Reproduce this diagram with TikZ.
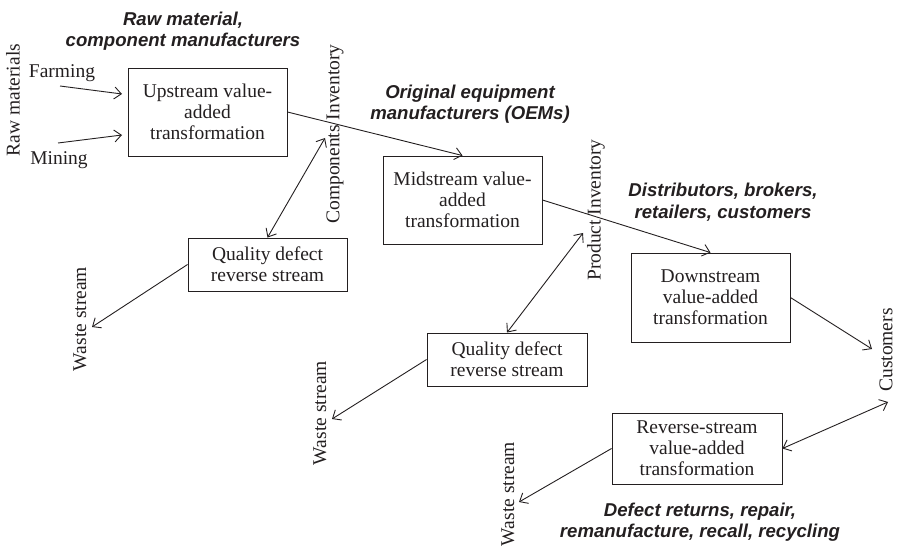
\documentclass[tikz,border=0pt]{standalone}
\usepackage{fontspec}
\setmainfont{Liberation Serif}
\newfontfamily\headfont{Liberation Sans}
\usetikzlibrary{arrows.meta}
\definecolor{ink}{RGB}{35,31,32}
\begin{document}
\begin{tikzpicture}[x=1pt,y=-1pt,
  every node/.style={text=ink},
  box/.style={draw=ink, line width=0.9pt, align=center, inner sep=0pt,
    font=\fontsize{19.5}{21}\selectfont},
  lbl/.style={inner sep=0pt, font=\fontsize{19.5}{21}\selectfont},
  vlbl/.style={lbl, rotate=90},
  head/.style={inner sep=0pt, align=center,
    font=\headfont\bfseries\itshape\fontsize{18.6}{21.5}\selectfont},
  flow/.style={draw=ink, line width=0.9pt, -{Straight Barb[length=7pt,width=12pt]}},
  both/.style={draw=ink, line width=0.9pt,
    {Straight Barb[length=7pt,width=12pt]}-{Straight Barb[length=7pt,width=12pt]}}]
\useasboundingbox (0,0) rectangle (897,548);

% stage boxes
\node[box, minimum width=159pt, minimum height=88pt] (up)   at (207.5,112)   {Upstream value-\\added\\transformation};
\node[box, minimum width=159pt, minimum height=88pt] (mid)  at (462.5,200)   {Midstream value-\\added\\transformation};
\node[box, minimum width=159pt, minimum height=89pt] (down) at (710.5,297.5) {Downstream\\value-added\\transformation};
\node[box, minimum width=159pt, minimum height=53pt] (qd1)  at (267.5,264.5) {Quality defect\\reverse stream};
\node[box, minimum width=160pt, minimum height=53pt] (qd2)  at (507,359.5)   {Quality defect\\reverse stream};
\node[box, minimum width=170pt, minimum height=71pt] (rev)  at (697,448.5)   {Reverse-stream\\value-added\\transformation};

% group headings
\node[head] (h1) at (183,31)  {Raw material,\\component manufacturers};
\node[head] (h2) at (470,104) {Original equipment\\manufacturers (OEMs)};
\node[head] (h3) at (723,202) {Distributors, brokers,\\retailers, customers};
\node[head] (h4) at (700,522) {Defect returns, repair,\\remanufacture, recall, recycling};

% side labels
\node[vlbl] (raw)    at (13,100)  {Raw materials};
\node[lbl]  (farm)   at (62,73)   {Farming};
\node[lbl]  (mine)   at (59,160)  {Mining};
\node[vlbl] (comp)   at (335,134) {Components Inventory};
\node[vlbl] (prod)   at (596,210) {Product Inventory};
\node[vlbl] (waste1) at (80,319)  {Waste stream};
\node[vlbl] (waste2) at (320,413) {Waste stream};
\node[vlbl] (waste3) at (508,494) {Waste stream};
\node[vlbl] (cust)   at (886,350) {Customers};

% free connector ends
\coordinate (farmtail) at (60,86);
\coordinate (farmtip)  at (122,94);
\coordinate (minetail) at (58,143);
\coordinate (minetip)  at (122,135);
\coordinate (compin)   at (325,138);
\coordinate (prodin)   at (583,233);
\coordinate (waste1in) at (92,327);
\coordinate (waste2in) at (332,419);
\coordinate (waste3in) at (519,502);
\coordinate (custin)   at (872,349);
\coordinate (custout)  at (888,402);

% forward flow
\draw[flow] (farmtail) -- (farmtip);
\draw[flow] (minetail) -- (minetip);
\draw[flow] (up.east) -- (mid.north);
\draw[flow] (mid.east) -- (down.north);
\draw[flow] (down.east) -- (custin);

% reverse and waste flows
\draw[both] (qd1.north) -- (compin);
\draw[flow] (qd1.west) -- (waste1in);
\draw[both] (qd2.north) -- (prodin);
\draw[flow] (qd2.west) -- (waste2in);
\draw[flow] (rev.west) -- (waste3in);
\draw[both] (rev.east) -- (custout);
\end{tikzpicture}
\end{document}
